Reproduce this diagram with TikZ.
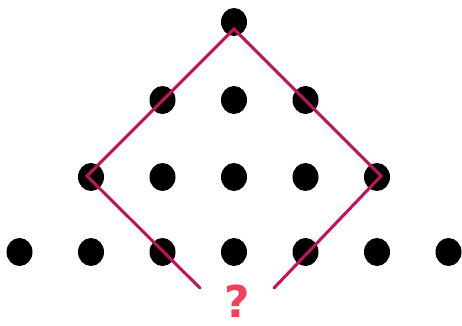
\documentclass[tikz,border=0pt]{standalone}
\usepackage{fontspec}
\newfontfamily\qfont{DejaVu Sans}
\usetikzlibrary{math}
\definecolor{mycrimson}{RGB}{194,18,92}
\definecolor{myred}{RGB}{240,64,90}

\begin{document}
\begin{tikzpicture}[x=0.02cm,y=-0.02cm]
\tikzmath{
\d=71.5;
\rx=13;
\ry=14;
}
\useasboundingbox (0,0) rectangle (462,325);

\fill (234,22) ellipse ({\rx} and {\ry});
\fill (234-\d,100) ellipse ({\rx} and {\ry}) (234,100) ellipse ({\rx} and {\ry}) (234+\d,100) ellipse ({\rx} and {\ry});
\fill (234-2*\d,177) ellipse ({\rx} and {\ry}) (234-\d,177) ellipse ({\rx} and {\ry}) (234,177) ellipse ({\rx} and {\ry}) (234+\d,177) ellipse ({\rx} and {\ry}) (234+2*\d,177) ellipse ({\rx} and {\ry});
\fill (234-3*\d,252) ellipse ({\rx} and {\ry}) (234-2*\d,252) ellipse ({\rx} and {\ry}) (234-\d,252) ellipse ({\rx} and {\ry}) (234,252) ellipse ({\rx} and {\ry}) (234+\d,252) ellipse ({\rx} and {\ry}) (234+2*\d,252) ellipse ({\rx} and {\ry}) (234+3*\d,252) ellipse ({\rx} and {\ry});

\coordinate (L0) at (200,288);
\coordinate (L1) at (87,176);
\coordinate (T) at (234,29);
\coordinate (R1) at (381,176);
\coordinate (R0) at (274,288);

\draw[mycrimson,line width=1.7pt,line cap=round,line join=miter] (L0) -- (L1) -- (T) -- (R1) -- (R0);

\node[inner sep=0pt,text=myred,anchor=base] (Q) at (237,317) {\qfont\bfseries\fontsize{25}{25}\selectfont ?};
\end{tikzpicture}
\end{document}
